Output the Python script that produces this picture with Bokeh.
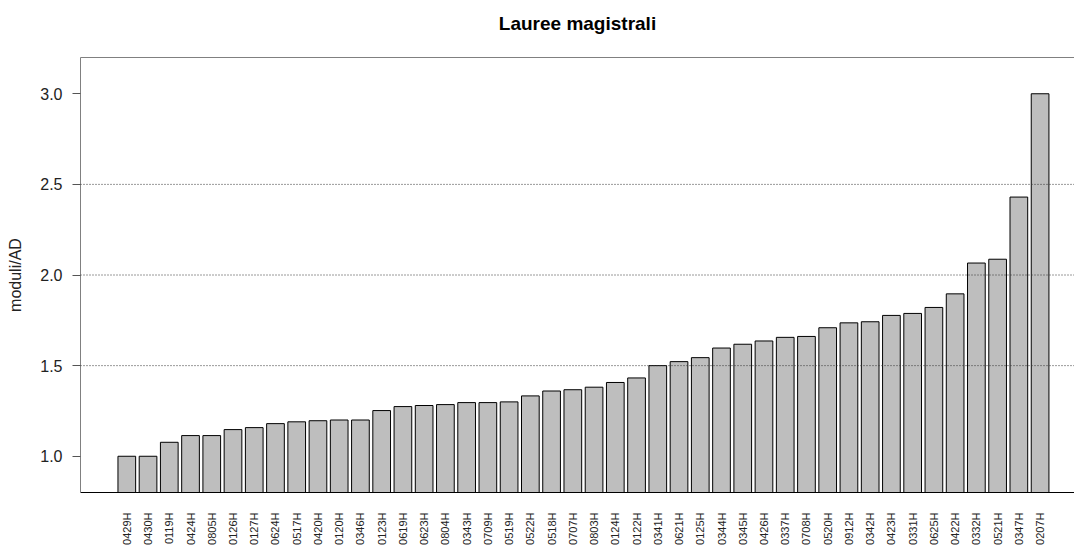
from bokeh.plotting import figure
from bokeh.models import (ColumnDataSource, Range1d, FixedTicker, LinearAxis,
                          Span, PrintfTickFormatter)
from bokeh.embed import file_html
from bokeh.resources import INLINE
import math

# ---- data ----
categories = ["0429H", "0430H", "0119H", "0424H", "0805H", "0126H", "0127H", "0624H",
              "0517H", "0420H", "0120H", "0346H", "0123H", "0619H", "0623H", "0804H",
              "0343H", "0709H", "0519H", "0522H", "0518H", "0707H", "0803H", "0124H",
              "0122H", "0341H", "0621H", "0125H", "0344H", "0345H", "0426H", "0337H",
              "0708H", "0520H", "0912H", "0342H", "0423H", "0331H", "0625H", "0422H",
              "0332H", "0521H", "0347H", "0207H"]
values = [1.00, 1.00, 1.077, 1.114, 1.114, 1.147, 1.158, 1.180,
          1.190, 1.196, 1.200, 1.200, 1.252, 1.274, 1.280, 1.285,
          1.296, 1.296, 1.300, 1.333, 1.360, 1.367, 1.381, 1.407,
          1.432, 1.500, 1.522, 1.544, 1.597, 1.618, 1.636, 1.656,
          1.661, 1.709, 1.736, 1.742, 1.777, 1.788, 1.821, 1.896,
          2.066, 2.087, 2.430, 3.000]
y_ticks = [1.0, 1.5, 2.0, 2.5, 3.0]
grid_levels = [1.5, 2.0, 2.5]
title_text = "Lauree magistrali"
y_label = "moduli/AD"

positions = list(range(len(categories)))
source = ColumnDataSource(data=dict(x=positions, top=values, cat=categories))

FONT = "Liberation Sans"

p = figure(width=1074, height=547, output_backend="svg", toolbar_location=None,
           x_range=Range1d(-2.18, 44.62), y_range=Range1d(0.8, 3.2),
           min_border_left=80, min_border_right=0, min_border_top=57,
           min_border_bottom=55)

p.outline_line_color = None
p.background_fill_color = "white"
p.border_fill_color = "white"
p.xgrid.visible = False
p.ygrid.visible = False

p.vbar(x="x", top="top", bottom=0, width=0.833, source=source,
       fill_color="#BEBEBE", line_color="black", line_width=1)

for g in grid_levels:
    p.add_layout(Span(location=g, dimension="width", line_color="#333333",
                      line_dash="1 2", line_width=1))

# y axis
ya = p.yaxis[0]
ya.ticker = FixedTicker(ticks=y_ticks)
ya.formatter = PrintfTickFormatter(format="%.1f")
ya.axis_label = y_label
ya.axis_label_text_font = FONT
ya.axis_label_text_font_size = "16px"
ya.axis_label_text_font_style = "normal"
ya.axis_label_text_color = "#222222"
ya.axis_label_standoff = 13
ya.major_label_text_font = FONT
ya.major_label_text_font_size = "16px"
ya.major_label_text_color = "#222222"
ya.major_label_standoff = 10
ya.axis_line_color = "#808080"
ya.major_tick_line_color = "#555555"
ya.major_tick_out = 8
ya.major_tick_in = 0
ya.minor_tick_line_color = None

# x axis
xa = p.xaxis[0]
xa.ticker = FixedTicker(ticks=positions)
xa.major_label_overrides = {i: c for i, c in zip(positions, categories)}
xa.major_label_orientation = math.pi / 2
xa.major_label_text_font = FONT
xa.major_label_text_font_size = "11px"
xa.major_label_text_color = "#222222"
xa.major_label_standoff = 14
xa.major_tick_line_color = None
xa.minor_tick_line_color = None
xa.axis_line_color = "black"
xa.axis_line_width = 1

# top border line, carrying the chart title as its label
top_axis = LinearAxis(ticker=FixedTicker(ticks=[]), major_label_text_font_size="0px",
                      major_tick_line_color=None, minor_tick_line_color=None,
                      axis_line_color="#808080",
                      axis_label=title_text, axis_label_text_font=FONT,
                      axis_label_text_font_size="19px",
                      axis_label_text_font_style="bold",
                      axis_label_text_color="black",
                      axis_label_standoff=24)
p.add_layout(top_axis, "above")

open("out.html", "w").write(file_html(p, INLINE))
